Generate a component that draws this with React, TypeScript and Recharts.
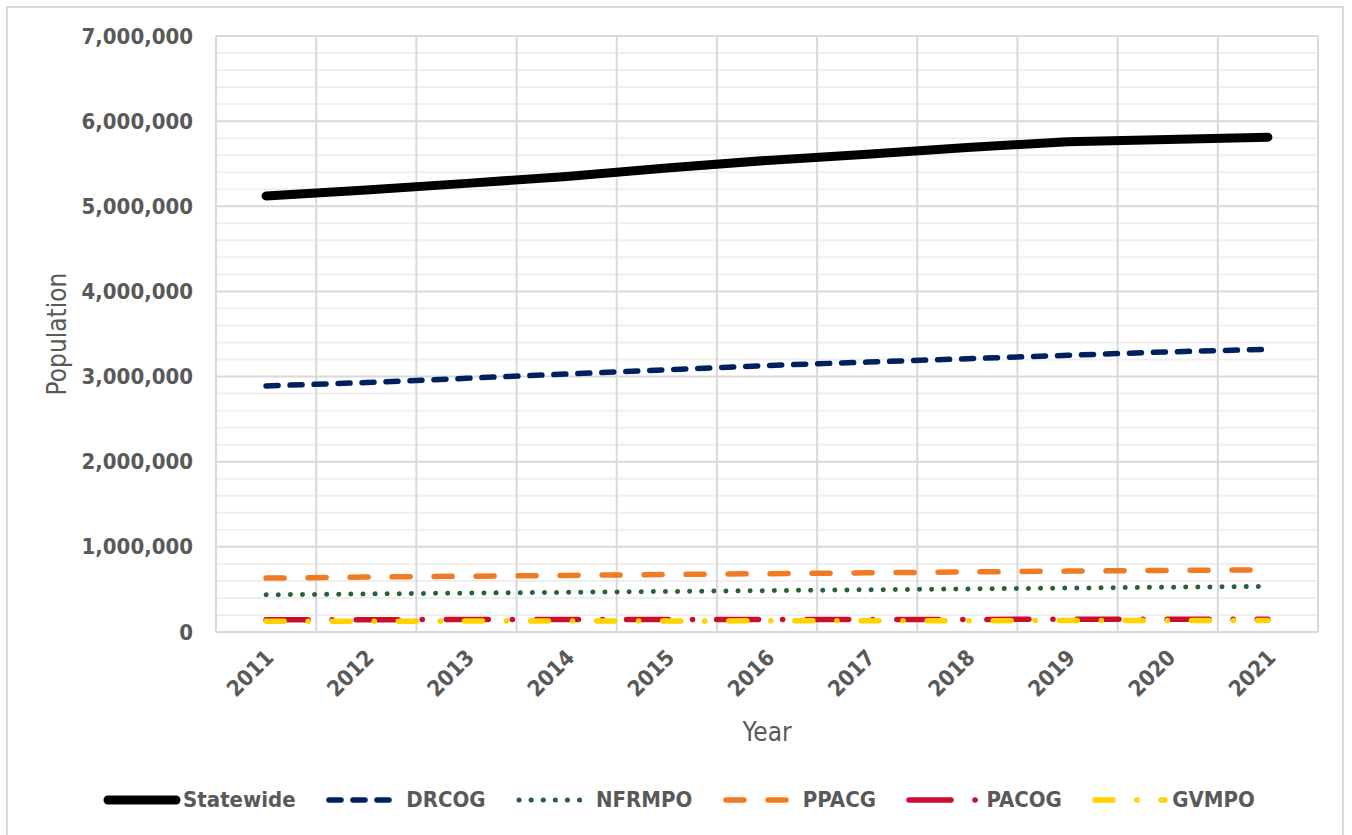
import React from 'react';
import { LineChart, Line, XAxis, YAxis, CartesianGrid } from 'recharts';

const years = [2011, 2012, 2013, 2014, 2015, 2016, 2017, 2018, 2019, 2020, 2021];
const statewide = [5121000, 5192000, 5269000, 5350000, 5450000, 5539000, 5612000, 5691000, 5758000, 5785000, 5812000];
const drcog = [2890000, 2930000, 2980000, 3030000, 3080000, 3130000, 3170000, 3210000, 3250000, 3290000, 3320000];
const nfrmpo = [437000, 447000, 457000, 466000, 476000, 486000, 496000, 506000, 516000, 526000, 535000];
const ppacg = [633000, 645000, 655000, 665000, 675000, 685000, 695000, 705000, 715000, 723000, 730000];
const pacog = [145000, 145000, 146000, 146000, 147000, 147000, 148000, 148000, 149000, 149000, 150000];
const gvmpo = [126000, 127000, 128000, 129000, 130000, 131000, 132000, 133000, 134000, 135000, 136000];

const yTicks = [0, 1000000, 2000000, 3000000, 4000000, 5000000, 6000000, 7000000];
const yMinor = [200000, 400000, 600000, 800000, 1200000, 1400000, 1600000, 1800000, 2200000, 2400000, 2600000, 2800000, 3200000, 3400000, 3600000, 3800000, 4200000, 4400000, 4600000, 4800000, 5200000, 5400000, 5600000, 5800000, 6200000, 6400000, 6600000, 6800000];
const xBoundaries = [2010.5, 2011.5, 2012.5, 2013.5, 2014.5, 2015.5, 2016.5, 2017.5, 2018.5, 2019.5, 2020.5, 2021.5];

const series = [
  { key: 'Statewide', values: statewide, color: '#000000', width: 9, dash: undefined as string | undefined },
  { key: 'DRCOG', values: drcog, color: '#002060', width: 5.5, dash: '12 12' },
  { key: 'NFRMPO', values: nfrmpo, color: '#2A6035', width: 5, dash: '0.1 12' },
  { key: 'PPACG', values: ppacg, color: '#F07B22', width: 5.5, dash: '18 24' },
  { key: 'PACOG', values: pacog, color: '#C8102E', width: 5.5, dash: '42 24 0.1 24' },
  { key: 'GVMPO', values: gvmpo, color: '#FFD200', width: 5.5, dash: '18 24 0.1 24' },
];

const data = years.map((year, i) => {
  const row: Record<string, number> = { year };
  series.forEach((s) => { row[s.key] = s.values[i]; });
  return row;
});

const FONT = "'DejaVu Sans Condensed', 'DejaVu Sans', sans-serif";
const TEXT = '#595959';
const Y_MAX = 7000000;

const fmt = (v: number) => v.toLocaleString('en-US');

const YTick = (props: any) => {
  const { x, y, payload } = props;
  return (
    <text x={x} y={y} textAnchor="end" dominantBaseline="central" fill={TEXT}
      style={{ fontFamily: FONT, fontStretch: 'condensed', fontWeight: 700, fontSize: 22 }}>
      {fmt(payload.value)}
    </text>
  );
};

const XTick = (props: any) => {
  const { x, y, payload } = props;
  const ax = x + 9;
  const ay = y + 27;
  return (
    <text x={ax} y={ay} textAnchor="end" transform={`rotate(-45, ${ax}, ${ay})`} fill={TEXT}
      style={{ fontFamily: FONT, fontStretch: 'condensed', fontWeight: 700, fontSize: 22 }}>
      {payload.value}
    </text>
  );
};

const yPos = (v: number, yAxis: any, offset: any) =>
  yAxis && typeof yAxis.scale === 'function' ? yAxis.scale(v) : offset.top + offset.height * (1 - v / Y_MAX);
const xPos = (v: number, xAxis: any, offset: any) =>
  xAxis && typeof xAxis.scale === 'function'
    ? xAxis.scale(v)
    : offset.left + offset.width * ((v - xBoundaries[0]) / (xBoundaries[xBoundaries.length - 1] - xBoundaries[0]));

const YLabel = (props: any) => {
  const vb = props.viewBox || {};
  const cx = vb.x + 41;
  const cy = vb.y + vb.height / 2;
  return (
    <text x={cx} y={cy} textAnchor="middle" dominantBaseline="central" transform={`rotate(-90, ${cx}, ${cy})`}
      fill={TEXT} style={{ fontFamily: FONT, fontStretch: 'condensed', fontSize: 26 }}>
      Population
    </text>
  );
};

const XLabel = (props: any) => {
  const vb = props.viewBox || {};
  const cx = vb.x + vb.width / 2;
  const cy = vb.y + 100;
  return (
    <text x={cx} y={cy} textAnchor="middle" dominantBaseline="central"
      fill={TEXT} style={{ fontFamily: FONT, fontStretch: 'condensed', fontSize: 26 }}>
      Year
    </text>
  );
};

const LegendSample = ({ s }: { s: typeof series[number] }) => (
  <svg width={80} height={14} style={{ display: 'block' }}>
    <line x1={s.dash ? 3 : 5} y1={7} x2={73} y2={7} stroke={s.color} strokeWidth={s.width}
      strokeDasharray={s.dash} strokeLinecap="round" />
  </svg>
);

export default function App() {
  return (
    <div style={{ position: 'absolute', left: 0, top: 0, width: 1352, height: 835, overflow: 'hidden', background: '#fff' }}>
      <div style={{ position: 'absolute', left: 6, top: 6, width: 1338, height: 900, border: '2px solid #D9D9D9', boxSizing: 'border-box' }} />
      <div style={{ position: 'absolute', left: 0, top: 0 }}>
        <LineChart width={1352} height={835} data={data} margin={{ top: 36, right: 34, bottom: 123, left: 16 }}>
          <CartesianGrid vertical={false} stroke="#EFEFEF" strokeWidth={2}
            horizontalCoordinatesGenerator={({ yAxis, offset }: any) => yMinor.map((v) => yPos(v, yAxis, offset))} />
          <CartesianGrid stroke="#D9D9D9" strokeWidth={2}
            horizontalCoordinatesGenerator={({ yAxis, offset }: any) => yTicks.map((v) => yPos(v, yAxis, offset))}
            verticalCoordinatesGenerator={({ xAxis, offset }: any) => xBoundaries.map((v) => xPos(v, xAxis, offset))} />
          <XAxis dataKey="year" type="number" domain={[xBoundaries[0], xBoundaries[xBoundaries.length - 1]]}
            ticks={years} interval={0} axisLine={false} tickLine={false} tickSize={0} tickMargin={0}
            height={80} tick={<XTick />} label={<XLabel />} allowDataOverflow />
          <YAxis type="number" domain={[0, Y_MAX]} ticks={yTicks} interval={0} axisLine={false} tickLine={false}
            tickSize={0} tickMargin={23} width={200} tick={<YTick />} label={<YLabel />} allowDataOverflow />
          {series.map((s) => (
            <Line key={s.key} type="linear" dataKey={s.key} stroke={s.color} strokeWidth={s.width}
              strokeDasharray={s.dash} strokeLinecap="round" strokeLinejoin="round"
              dot={false} activeDot={false} isAnimationActive={false} />
          ))}
        </LineChart>
      </div>
      <div style={{ position: 'absolute', left: 0, top: 788, width: 1352, paddingLeft: 6, boxSizing: 'border-box', display: 'flex', justifyContent: 'center', alignItems: 'center' }}>
        {series.map((s, i) => (
          <div key={s.key} style={{ display: 'flex', alignItems: 'center', marginRight: i === series.length - 1 ? 0 : 30.5 }}>
            <LegendSample s={s} />
            <span style={{ fontFamily: FONT, fontStretch: 'condensed', fontWeight: 700, fontSize: 22, color: TEXT, lineHeight: '24px', whiteSpace: 'nowrap' }}>
              {s.key}
            </span>
          </div>
        ))}
      </div>
    </div>
  );
}
